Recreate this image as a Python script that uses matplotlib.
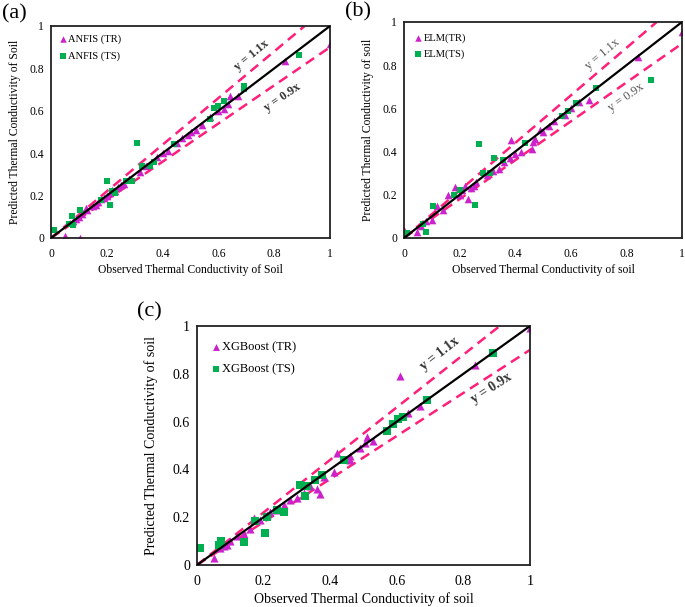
import numpy as np
import matplotlib
matplotlib.use('Agg')
import matplotlib.pyplot as plt

plt.rcParams['font.family'] = ['Liberation Serif', 'DejaVu Serif']

# ---- panel (a) ANFIS ----
a_tr_x = [0.0, 0.05, 0.105, 0.08, 0.09, 0.10, 0.11, 0.125, 0.13, 0.15, 0.16, 0.17, 0.18, 0.19, 0.20,
          0.21, 0.22, 0.23, 0.24, 0.25, 0.26, 0.28, 0.32, 0.34, 0.38, 0.40, 0.42, 0.45, 0.47, 0.49,
          0.50, 0.52, 0.54, 0.57, 0.60, 0.62, 0.635, 0.64, 0.67, 0.84, 1.0]
a_tr_y = [0.0, 0.008, 0.0, 0.08, 0.09, 0.10, 0.115, 0.143, 0.13, 0.15, 0.155, 0.17, 0.185, 0.19, 0.20,
          0.21, 0.225, 0.22, 0.24, 0.25, 0.255, 0.28, 0.31, 0.34, 0.38, 0.40, 0.41, 0.45, 0.47, 0.485,
          0.50, 0.51, 0.535, 0.57, 0.60, 0.61, 0.63, 0.67, 0.67, 0.835, 0.915]
a_ts_x = [0.01, 0.074, 0.066, 0.08, 0.105, 0.20, 0.21, 0.31, 0.18, 0.23, 0.22, 0.27, 0.29, 0.325,
          0.355, 0.37, 0.44, 0.57, 0.585, 0.60, 0.62, 0.69, 0.69, 0.89]
a_ts_y = [0.04, 0.104, 0.064, 0.06, 0.13, 0.27, 0.155, 0.45, 0.18, 0.21, 0.22, 0.27, 0.27, 0.34,
          0.34, 0.36, 0.445, 0.56, 0.615, 0.625, 0.645, 0.715, 0.705, 0.865]

# ---- panel (b) ELM ----
b_tr_x = [0.0, 0.045, 0.06, 0.08, 0.10, 0.12, 0.14, 0.16, 0.185, 0.20, 0.21, 0.22, 0.23, 0.24, 0.25,
          0.26, 0.30, 0.32, 0.34, 0.36, 0.38, 0.385, 0.40, 0.42, 0.46, 0.465, 0.47, 0.49, 0.50, 0.52,
          0.54, 0.58, 0.60, 0.63, 0.667, 0.84, 1.0]
b_tr_y = [0.035, 0.03, 0.055, 0.08, 0.085, 0.15, 0.13, 0.20, 0.235, 0.20, 0.22, 0.24, 0.18, 0.23, 0.24,
          0.26, 0.29, 0.31, 0.32, 0.35, 0.37, 0.455, 0.39, 0.40, 0.41, 0.445, 0.46, 0.50, 0.49, 0.52,
          0.54, 0.57, 0.60, 0.63, 0.64, 0.84, 0.955]
b_ts_x = [0.01, 0.07, 0.08, 0.105, 0.18, 0.20, 0.255, 0.27, 0.285, 0.31, 0.325, 0.355, 0.435,
          0.57, 0.59, 0.62, 0.69, 0.89]
b_ts_y = [0.025, 0.065, 0.03, 0.147, 0.20, 0.22, 0.155, 0.435, 0.30, 0.30, 0.37, 0.36, 0.44,
          0.565, 0.59, 0.625, 0.695, 0.73]

# ---- panel (c) XGBoost ----
c_tr_x = [0.0, 0.05, 0.07, 0.08, 0.09, 0.10, 0.12, 0.14, 0.16, 0.17, 0.19, 0.21, 0.22, 0.24, 0.26,
          0.28, 0.30, 0.32, 0.34, 0.36, 0.37, 0.38, 0.41, 0.42, 0.46, 0.46, 0.49, 0.505, 0.51, 0.53,
          0.61, 0.635, 0.67, 0.835, 1.0]
c_tr_y = [0.0, 0.03, 0.07, 0.08, 0.085, 0.10, 0.12, 0.13, 0.15, 0.195, 0.19, 0.21, 0.22, 0.23, 0.25,
          0.27, 0.28, 0.30, 0.33, 0.32, 0.295, 0.37, 0.39, 0.47, 0.455, 0.44, 0.49, 0.51, 0.535, 0.52,
          0.79, 0.635, 0.665, 0.835, 0.99]
c_ts_x = [0.01, 0.073, 0.065, 0.14, 0.205, 0.175, 0.21, 0.24, 0.26, 0.31, 0.33, 0.325, 0.355,
          0.375, 0.44, 0.57, 0.59, 0.605, 0.62, 0.69, 0.89]
c_ts_y = [0.07, 0.10, 0.085, 0.095, 0.135, 0.185, 0.20, 0.23, 0.22, 0.335, 0.33, 0.29, 0.355,
          0.375, 0.44, 0.56, 0.59, 0.61, 0.62, 0.69, 0.885]

ticks = [0, 0.2, 0.4, 0.6, 0.8, 1]
tick_labels = ['0', '0.2', '0.4', '0.6', '0.8', '1']

TRI = '#CC22CC'
SQ = '#00B050'
DASH = '#FF1F7A'

W, H = 685, 607
fig = plt.figure(figsize=(W / 100, H / 100), dpi=100)


def px_axes(x0, y0, x1, y1):
    return fig.add_axes([x0 / W, 1 - y1 / H, (x1 - x0) / W, (y1 - y0) / H])


def panel(ax, trx, try_, tsx, tsy, tr_lab, ts_lab, xlabel, ylabel, fs, lfs, ypad, lab_pos,
          lbl_bold, lbl_col, ms_tri, ms_sq, eq_fs, leg_pad, leg_space):
    xx = np.array([0, 1])
    ax.plot([0, 1 / 1.1], [0, 1], ls=(0, (4, 2.5)), color=DASH, lw=1.8, zorder=1)
    ax.plot(xx, 0.9 * xx, ls=(0, (4, 2.5)), color=DASH, lw=1.8, zorder=1)
    ax.plot(xx, xx, color='black', lw=1.6, zorder=3)
    ax.scatter(trx, try_, marker='^', s=ms_tri, color=TRI, label=tr_lab, zorder=2, linewidths=0)
    ax.scatter(tsx, tsy, marker='s', s=ms_sq, color=SQ, label=ts_lab, zorder=2, linewidths=0)
    ax.set_xlim(0, 1)
    ax.set_ylim(0, 1)
    ax.set_xticks(ticks)
    ax.set_yticks(ticks)
    ax.set_xticklabels(tick_labels)
    ax.set_yticklabels(tick_labels)
    ax.tick_params(length=0, labelsize=fs)
    ax.tick_params(axis='x', pad=7)
    ax.tick_params(axis='y', pad=5)
    for sp in ax.spines.values():
        sp.set_linewidth(1.3)
        sp.set_color('#222222')
    ax.set_xlabel(xlabel, fontsize=fs, labelpad=3)
    ax.set_ylabel(ylabel, fontsize=fs, labelpad=ypad)
    ax.legend(loc='upper left', frameon=False, fontsize=lfs, handlelength=0.6, handletextpad=0.2,
              borderaxespad=leg_pad, labelspacing=leg_space, markerscale=0.85, borderpad=0.3)
    # rotated equation labels
    for (tx, ty), slope, txt in zip(lab_pos, [1.1, 0.9], ['y = 1.1x', 'y = 0.9x']):
        p0 = ax.transData.transform((0, 0))
        p1 = ax.transData.transform((1, slope))
        ang = np.degrees(np.arctan2(p1[1] - p0[1], p1[0] - p0[0]))
        ax.text(tx, ty, txt, rotation=ang, ha='center', va='center', fontsize=eq_fs,
                fontweight='bold' if lbl_bold else 'normal', color=lbl_col)


ax_a = px_axes(51, 26, 330, 238)
panel(ax_a, a_tr_x, a_tr_y, a_ts_x, a_ts_y, 'ANFIS (TR)', 'ANFIS (TS)',
      'Observed Thermal Conductivity of Soil', 'Predicted Thermal Conductivity of Soil',
      8.4, 7.6, 6, [(0.72, 0.86), (0.83, 0.665)], True, '#333333', 30, 22, 8.8, 0.5, 0.65)

ax_b = px_axes(404, 22, 682, 238)
panel(ax_b, b_tr_x, b_tr_y, b_ts_x, b_ts_y, 'ELM(TR)', 'ELM(TS)',
      'Observed Thermal Conductivity of soil', 'Predicted Thermal Conductivity of soil',
      8.4, 7.6, 6, [(0.715, 0.85), (0.80, 0.65)], False, '#555555', 30, 22, 8.8, 0.75, 0.65)

ax_c = px_axes(197, 326, 530, 565)
panel(ax_c, c_tr_x, c_tr_y, c_ts_x, c_ts_y, 'XGBoost (TR)', 'XGBoost (TS)',
      'Observed Thermal Conductivity of soil', 'Predicted Thermal Conductivity of soil',
      10.1, 9.0, 11, [(0.73, 0.885), (0.885, 0.74)], True, '#333333', 34, 26, 9.8, 0.9, 0.85)

fig.text(2 / W, 1 - 14 / H, '(a)', fontsize=16, va='center', ha='left')
fig.text(345 / W, 1 - 12 / H, '(b)', fontsize=16, va='center', ha='left')
fig.text(137 / W, 1 - 312 / H, '(c)', fontsize=16, va='center', ha='left')

fig.savefig('out.png', dpi=100)
